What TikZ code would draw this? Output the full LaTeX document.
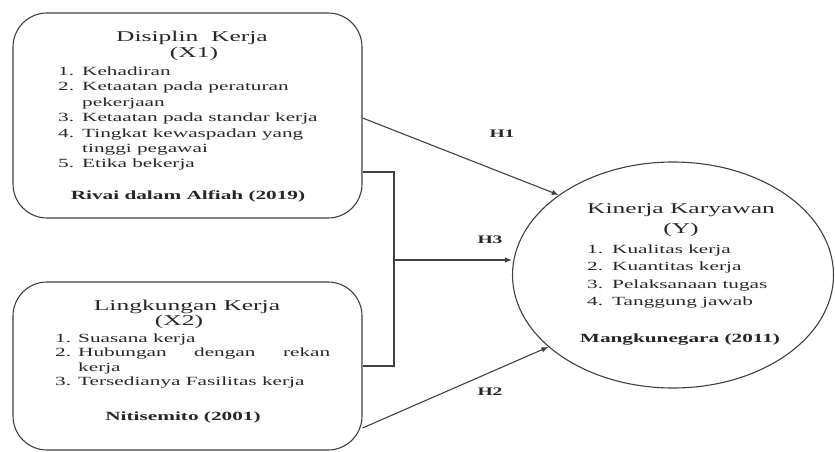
\documentclass[tikz,border=0pt]{standalone}
\usepackage{fontspec}
\setmainfont{Liberation Serif}[FakeStretch=1.7]
\usetikzlibrary{shapes.geometric,arrows.meta}
\definecolor{ink}{HTML}{262626}
\definecolor{lin}{HTML}{404040}
\begin{document}
\begin{tikzpicture}[x=1pt,y=-1pt,
  box/.style={draw=lin,line width=1.1pt,rounded corners=34pt,inner sep=0pt},
  ell/.style={draw=lin,line width=1.1pt,ellipse,inner sep=0pt},
  ttl/.style={anchor=base,inner sep=0pt,text=ink,font=\fontsize{15}{18}\selectfont},
  itm/.style={anchor=base west,inner sep=0pt,text=ink,font=\fontsize{12.5}{15}\selectfont},
  src/.style={anchor=base,inner sep=0pt,text=ink,font=\fontsize{12.5}{15}\selectfont\bfseries},
  hlab/.style={anchor=base,inner sep=0pt,text=ink,font=\fontsize{11.5}{13}\selectfont\bfseries},
  conn/.style={draw=lin,line width=1.1pt},
  arr/.style={conn,-{Latex[length=7pt,width=5.5pt]}}]
\useasboundingbox (0,0) rectangle (835,452);
% boxes
\node[box,minimum width=349pt,minimum height=205pt] (box1) at (187.5,115.5) {};
\node[box,minimum width=349pt,minimum height=168pt] (box2) at (187.5,366) {};
\node[ell,minimum width=321pt,minimum height=226pt] (ell) at (673,275) {};
% box1 text
\node[ttl] (t1) at (192,41.7) {Disiplin~~Kerja};
\node[ttl] (t1b) at (194,58) {(X1)};
\node[itm] (n11) at (58,75.5) {1.};
\node[itm] (i11) at (82,75.5) {Kehadiran};
\node[itm] (n12) at (58,90.9) {2.};
\node[itm] (i12) at (82,90.9) {Ketaatan pada peraturan};
\node[itm] (i12b) at (82,106.3) {pekerjaan};
\node[itm] (n13) at (58,121.7) {3.};
\node[itm] (i13) at (82,121.7) {Ketaatan pada standar kerja};
\node[itm] (n14) at (58,137.1) {4.};
\node[itm] (i14) at (82,137.1) {Tingkat kewaspadan yang};
\node[itm] (i14b) at (82,152.5) {tinggi pegawai};
\node[itm] (n15) at (58,167.9) {5.};
\node[itm] (i15) at (82,167.9) {Etika bekerja};
\node[src] (s1) at (188,199) {Rivai dalam Alfiah (2019)};
% box2 text
\node[ttl] (t2) at (187,310) {Lingkungan Kerja};
\node[ttl] (t2b) at (179,325) {(X2)};
\node[itm] (n21) at (55,342) {1.};
\node[itm] (i21) at (78,342) {Suasana kerja};
\node[itm] (n22) at (55,356.5) {2.};
\node[itm] (i22) at (78,356.5) {\hbox to 252pt{Hubungan\hfill dengan\hfill rekan}};
\node[itm] (i22b) at (78,371) {kerja};
\node[itm] (n23) at (55,385.5) {3.};
\node[itm] (i23) at (78,385.5) {Tersedianya Fasilitas kerja};
\node[src] (s2) at (183,420) {Nitisemito (2001)};
% ellipse text
\node[ttl] (t3) at (681,213) {Kinerja Karyawan};
\node[ttl] (t3b) at (681,233) {(Y)};
\node[itm] (n31) at (587,253) {1.};
\node[itm] (i31) at (612,253) {Kualitas kerja};
\node[itm] (n32) at (587,270.5) {2.};
\node[itm] (i32) at (612,270.5) {Kuantitas kerja};
\node[itm] (n33) at (587,288) {3.};
\node[itm] (i33) at (612,288) {Pelaksanaan tugas};
\node[itm] (n34) at (587,305.5) {4.};
\node[itm] (i34) at (612,305.5) {Tanggung jawab};
\node[src] (s3) at (680,342) {Mangkunegara (2011)};
% connectors
\coordinate (h1s) at ([yshift=-2.5pt]box1.east);
\coordinate (h2s) at ([yshift=-62pt]box2.east);
\coordinate (j1) at (394,172);
\coordinate (j2) at (394,366);
\coordinate (jm) at (394,260);
\draw[arr] (h1s) -- (ell.145);
\draw[arr] (h2s) -- (ell.210);
\draw[conn] (box1.east |- j1) -- (j1) -- (j2) -- (box2.east |- j2);
\draw[arr] (jm) -- (jm -| ell.west);
% labels
\node[hlab] (H1) at (502,137) {H1};
\node[hlab] (H3) at (490,243) {H3};
\node[hlab] (H2) at (490,395) {H2};
\end{tikzpicture}
\end{document}
